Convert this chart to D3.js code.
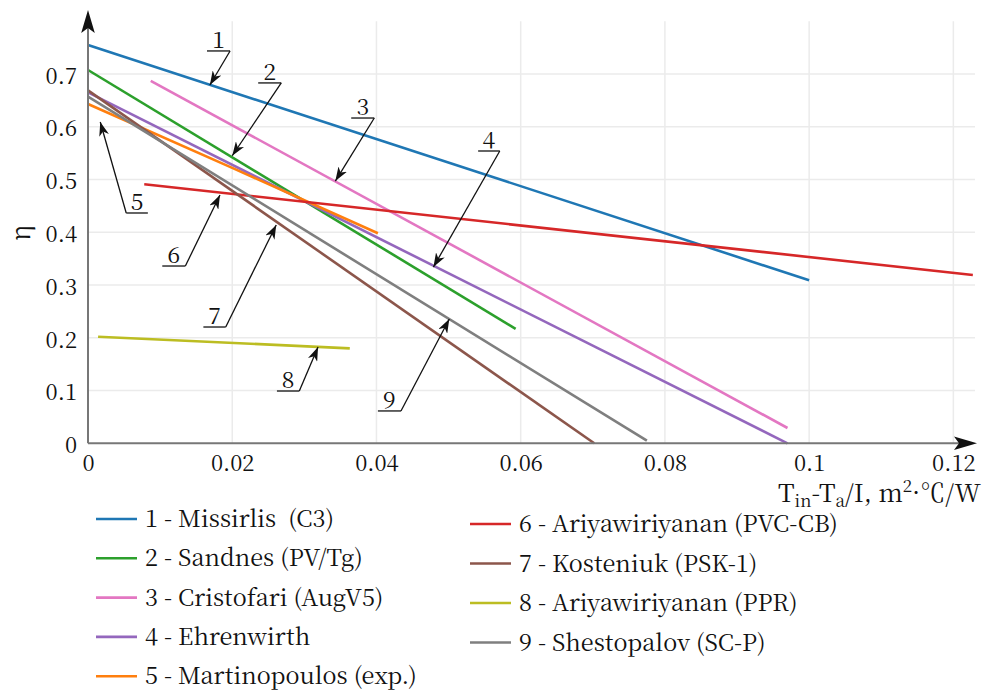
<!DOCTYPE html>
<html>
<head>
<meta charset="utf-8">
<script src="https://cdn.jsdelivr.net/npm/d3@7"></script>
<style>
  body { margin: 0; background: #fff; }
</style>
</head>
<body>
<svg width="989" height="693"></svg>
<script>
const FONT = "'Noto Serif CJK SC', 'Liberation Serif', serif";

// Series names, colours and values
const names = ['1 - Missirlis  (C3)', '2 - Sandnes (PV/Tg)', '3 - Cristofari (AugV5)', '4 - Ehrenwirth',
  '5 - Martinopoulos (exp.)', '6 - Ariyawiriyanan (PVC-CB)', '7 - Kosteniuk (PSK-1)',
  '8 - Ariyawiriyanan (PPR)', '9 - Shestopalov (SC-P)'];
const colors = ['#1f77b4', '#2ca02c', '#e377c2', '#9467bd', '#ff7f0e', '#d62728', '#8c564b', '#bcbd22', '#7f7f7f'];

const xs1 = [0, 0.1],        ys1 = [0.755, 0.309];
const xs2 = [0, 0.0593],     ys2 = [0.7075, 0.217];
const xs3 = [0.0087, 0.097], ys3 = [0.687, 0.029];
const xs4 = [0, 0.097],      ys4 = [0.665, 0.0];
const xs5 = [0, 0.02, 0.0402], ys5 = [0.643, 0.522, 0.398];
const xs6 = [0.0078, 0.1227], ys6 = [0.491, 0.319];
const xs7 = [0, 0.0702],     ys7 = [0.669, 0.0];
const xs8 = [0.0014, 0.0363], ys8 = [0.202, 0.180];
const xs9 = [0, 0.0775],     ys9 = [0.657, 0.005];

const xsAll = [xs1, xs2, xs3, xs4, xs5, xs6, xs7, xs8, xs9];
const ysAll = [ys1, ys2, ys3, ys4, ys5, ys6, ys7, ys8, ys9];

const xTicks = [0, 0.02, 0.04, 0.06, 0.08, 0.1, 0.12];
const xTickLabels = ['0', '0.02', '0.04', '0.06', '0.08', '0.1', '0.12'];
const yTicks = [0, 0.1, 0.2, 0.3, 0.4, 0.5, 0.6, 0.7];
const yTickLabels = ['0', '0.1', '0.2', '0.3', '0.4', '0.5', '0.6', '0.7'];

// callouts: label, underline from/to (x), underline y, tip (x, y) -- data units
const calloutLabels = ['1', '2', '3', '4', '5', '6', '7', '8', '9'];
const calloutX0 = [0.0165, 0.0236, 0.0365, 0.0541, 0.0053, 0.0103, 0.0160, 0.0262, 0.0402];
const calloutX1 = [0.0197, 0.0268, 0.0397, 0.0571, 0.0083, 0.0135, 0.0191, 0.0293, 0.0434];
const calloutY  = [0.7436, 0.683, 0.6165, 0.554, 0.4365, 0.336, 0.2204, 0.0991, 0.0613];
const tipX = [0.0169, 0.0200, 0.0343, 0.0479, 0.0017, 0.0183, 0.0261, 0.0319, 0.0501];
const tipY = [0.679, 0.545, 0.497, 0.334, 0.609, 0.4706, 0.4138, 0.1825, 0.2356];

const svg = d3.select('svg');
const x = d3.scaleLinear().domain([0, 0.123]).range([88, 975]);
const y = d3.scaleLinear().domain([0, 0.8]).range([443.3, 21.2]);

// grid
svg.append('g').selectAll('line').data(xTicks.slice(1)).enter().append('line')
  .attr('x1', d => x(d)).attr('x2', d => x(d))
  .attr('y1', y(0.8)).attr('y2', y(0))
  .attr('stroke', '#ebebeb').attr('stroke-width', 1.5);
svg.append('g').selectAll('line').data(yTicks.slice(1)).enter().append('line')
  .attr('x1', x(0)).attr('x2', x(0.123))
  .attr('y1', d => y(d)).attr('y2', d => y(d))
  .attr('stroke', '#ebebeb').attr('stroke-width', 1.5);

// series
const line = d3.line().x(d => x(d[0])).y(d => y(d[1]));
svg.append('g').selectAll('path').data(d3.range(9)).enter().append('path')
  .attr('fill', 'none')
  .attr('stroke', i => colors[i])
  .attr('stroke-width', 2.6)
  .attr('d', i => line(xsAll[i].map((v, k) => [v, ysAll[i][k]])));

// axes
const xAxis = d3.axisBottom(x).tickValues(xTicks).tickSize(0).tickPadding(12)
  .tickFormat((d, i) => xTickLabels[i]);
const yAxis = d3.axisLeft(y).tickValues(yTicks).tickSize(0).tickPadding(11)
  .tickFormat((d, i) => yTickLabels[i]);
const gx = svg.append('g').attr('transform', 'translate(0,' + y(0) + ')').call(xAxis);
const gy = svg.append('g').attr('transform', 'translate(' + x(0) + ',0)').call(yAxis);
[gx, gy].forEach(g => {
  g.select('.domain').remove();
  g.selectAll('text').style('font-family', FONT).style('font-size', '22px').attr('fill', '#111');
});
gy.selectAll('text').attr('dy', '0.42em');

// axis lines with arrowheads
svg.append('line').attr('x1', x(0)).attr('x2', 960).attr('y1', y(0)).attr('y2', y(0))
  .attr('stroke', '#777').attr('stroke-width', 2);
svg.append('line').attr('x1', x(0)).attr('x2', x(0)).attr('y1', y(0)).attr('y2', 25)
  .attr('stroke', '#777').attr('stroke-width', 2);
svg.append('path').attr('d', 'M977,443.3 L954,436.5 L959,443.3 L954,450.1 Z').attr('fill', '#111');
svg.append('path').attr('d', 'M88,10 L81.2,33 L88,28 L94.8,33 Z').attr('fill', '#111');

// axis titles
svg.append('text').attr('transform', 'translate(30,233) rotate(-90)')
  .attr('text-anchor', 'middle').style('font-family', FONT).style('font-size', '26px')
  .attr('fill', '#111').text('η');
const xt = svg.append('text').attr('x', 778).attr('y', 502)
  .style('font-family', FONT).style('font-size', '25px').attr('fill', '#111');
xt.append('tspan').text('T');
xt.append('tspan').style('font-size', '17px').attr('dy', 5).text('in');
xt.append('tspan').attr('dy', -5).text('-T');
xt.append('tspan').style('font-size', '17px').attr('dy', 5).text('a');
xt.append('tspan').attr('dy', -5).text('/I, m');
xt.append('tspan').style('font-size', '17px').attr('dy', -10).text('2');
xt.append('tspan').attr('dy', 10).text('·℃/W');

// callouts
svg.append('defs').append('marker')
  .attr('id', 'tip').attr('viewBox', '0 0 14 10').attr('refX', 14).attr('refY', 5)
  .attr('markerWidth', 14).attr('markerHeight', 10).attr('markerUnits', 'userSpaceOnUse')
  .attr('orient', 'auto')
  .append('path').attr('d', 'M0,0 L14,5 L0,10 L4,5 Z').attr('fill', '#111');

const co = svg.append('g').selectAll('g').data(d3.range(9)).enter().append('g');
co.append('line')
  .attr('x1', i => x(calloutX0[i])).attr('x2', i => x(calloutX1[i]))
  .attr('y1', i => y(calloutY[i])).attr('y2', i => y(calloutY[i]))
  .attr('stroke', '#111').attr('stroke-width', 1.3);
co.append('line')
  .attr('x1', i => i === 4 ? x(calloutX0[i]) : x(calloutX1[i]))
  .attr('y1', i => y(calloutY[i]))
  .attr('x2', i => x(tipX[i])).attr('y2', i => y(tipY[i]))
  .attr('stroke', '#111').attr('stroke-width', 1.3)
  .attr('marker-end', 'url(#tip)');
co.append('text')
  .attr('x', i => (x(calloutX0[i]) + x(calloutX1[i])) / 2)
  .attr('y', i => y(calloutY[i]) - 3)
  .attr('text-anchor', 'middle').style('font-family', FONT).style('font-size', '23px')
  .attr('fill', '#111')
  .text(i => calloutLabels[i]);

// legend
const leg = svg.append('g').selectAll('g').data(d3.range(9)).enter().append('g')
  .attr('transform', i => i < 5 ? 'translate(96,' + (519 + 39.3 * i) + ')'
                                : 'translate(470,' + (524 + 39.5 * (i - 5)) + ')');
leg.append('line').attr('x1', 0).attr('x2', 41).attr('y1', 0).attr('y2', 0)
  .attr('stroke', i => colors[i]).attr('stroke-width', 2.6);
leg.append('text').attr('x', 49).attr('y', 0).attr('dy', '0.34em')
  .style('font-family', FONT).style('font-size', '23.5px').style('white-space', 'pre')
  .attr('fill', '#111')
  .text(i => names[i]);
</script>
</body>
</html>
